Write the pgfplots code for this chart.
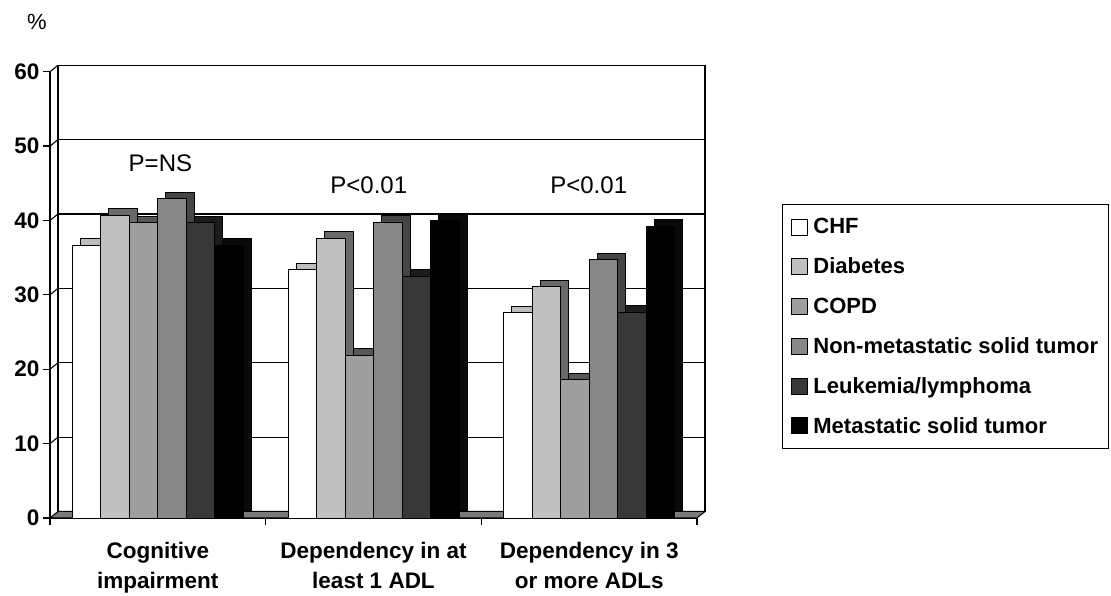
\documentclass[border=0pt]{standalone}
\usepackage{pgfplots}
\pgfplotsset{compat=1.18}
\usepackage{pgfplotstable}
\usepackage{fontspec}
\setmainfont{Liberation Sans}

\definecolor{chfF}{HTML}{FFFFFF}\definecolor{chfD}{HTML}{BDBDBD}
\definecolor{diaF}{HTML}{C0C0C0}\definecolor{diaD}{HTML}{6A6A6A}
\definecolor{copF}{HTML}{9E9E9E}\definecolor{copD}{HTML}{575757}
\definecolor{nonF}{HTML}{878787}\definecolor{nonD}{HTML}{454545}
\definecolor{leuF}{HTML}{383838}\definecolor{leuD}{HTML}{1C1C1C}
\definecolor{metF}{HTML}{000000}\definecolor{metD}{HTML}{0A0A0A}
\definecolor{floorc}{HTML}{7A7A7A}

% x = category centre; values in %
\pgfplotstableread{
x   chf  dia  copd nonmet leuk met
0.5 36.7 40.7 39.7 42.9   39.7 36.7
1.5 33.4 37.6 21.9 39.8   32.5 40.0
2.5 27.6 31.1 18.6 34.7   27.7 39.2
}\adldata

\pgfplotsset{
  base/.style={scale only axis, width=647pt, height=446.3pt,
    xmin=0, xmax=3, ymin=0, ymax=60, clip=false},
  front/.style 2 args={ybar, bar width=28.5pt, bar shift=#1, fill=#2,
    draw=black, line width=0.9pt},
  depth/.style 2 args={ybar, bar width=28.5pt, bar shift=#1+8pt, yshift=6.5pt,
    fill=#2, draw=black, line width=0.9pt, forget plot},
}

\begin{document}
\begin{tikzpicture}
\useasboundingbox (0,0) rectangle (1111pt,596pt);

% back wall
\begin{axis}[base, at={(58pt,84.5pt)}, anchor=south west,
  xtick=\empty, ytick={10,20,30,40,50}, yticklabels={},
  major tick length=0pt, ymajorgrids,
  grid style={black, line width=1.1pt},
  axis line style={line width=1.1pt}]
\end{axis}

\begin{axis}[base, at={(50pt,78pt)}, anchor=south west,
  axis x line*=bottom, axis y line*=left,
  axis line style={-, line width=1.2pt},
  tick align=outside, major tick length=7pt, minor tick length=7pt,
  tick style={black, line width=1.2pt},
  ytick={0,10,...,60},
  /pgf/number format/assume math mode=true,
  yticklabel style={font=\bfseries\fontsize{22.5}{22.5}\selectfont},
  xtick={0.5,1.5,2.5}, minor xtick={0,1,2,3},
  major x tick style={draw=none},
  xticklabels={{Cognitive\\impairment},{Dependency in at\\least 1 ADL},{Dependency in 3\\or more ADLs}},
  xticklabel style={font=\bfseries\fontsize{22.5}{30}\selectfont, align=center, yshift=-14pt},
  legend style={at={(1.1314,0.7036)}, anchor=north west, draw=black,
    line width=1.2pt, font=\bfseries\fontsize{22}{24}\selectfont,
    row sep=18.5pt, inner xsep=8pt, inner ysep=12pt, cells={anchor=west},
    /tikz/every odd column/.append style={column sep=4pt}},
  legend image code/.code={\draw[#1, draw=black, line width=0.8pt] (0pt,-8pt) rectangle (16pt,8pt);},
]
% floor and left side wall
\fill[floorc, draw=black, line width=1pt] (axis cs:0,0) -- (axis cs:3,0)
  -- ([shift={(8pt,6.5pt)}]axis cs:3,0) -- ([shift={(8pt,6.5pt)}]axis cs:0,0) -- cycle;
\pgfplotsinvokeforeach{10,20,30,40,50,60}{
  \draw[line width=1.1pt] (axis cs:0,#1) -- ++(8pt,6.5pt);
}

\addplot[depth={-71.25pt}{chfD}] table[x=x,y=chf]{\adldata};
\addplot[front={-71.25pt}{chfF}] table[x=x,y=chf]{\adldata};
\addplot[depth={-42.75pt}{diaD}] table[x=x,y=dia]{\adldata};
\addplot[front={-42.75pt}{diaF}] table[x=x,y=dia]{\adldata};
\addplot[depth={-14.25pt}{copD}] table[x=x,y=copd]{\adldata};
\addplot[front={-14.25pt}{copF}] table[x=x,y=copd]{\adldata};
\addplot[depth={14.25pt}{nonD}] table[x=x,y=nonmet]{\adldata};
\addplot[front={14.25pt}{nonF}] table[x=x,y=nonmet]{\adldata};
\addplot[depth={42.75pt}{leuD}] table[x=x,y=leuk]{\adldata};
\addplot[front={42.75pt}{leuF}] table[x=x,y=leuk]{\adldata};
\addplot[depth={71.25pt}{metD}] table[x=x,y=met]{\adldata};
\addplot[front={71.25pt}{metF}] table[x=x,y=met]{\adldata};

\legend{CHF, Diabetes, COPD, Non-metastatic solid tumor, Leukemia/lymphoma, Metastatic solid tumor}

\node[font=\fontsize{24}{24}\selectfont] at (axis cs:0.512,47.7) {P=NS};
\node[font=\fontsize{24}{24}\selectfont] at (axis cs:1.478,44.8) {P<0.01};
\node[font=\fontsize{24}{24}\selectfont] at (axis cs:2.498,44.8) {P<0.01};
\end{axis}

\node[font=\fontsize{22}{22}\selectfont] at (37pt,574pt) {\%};
\end{tikzpicture}
\end{document}
